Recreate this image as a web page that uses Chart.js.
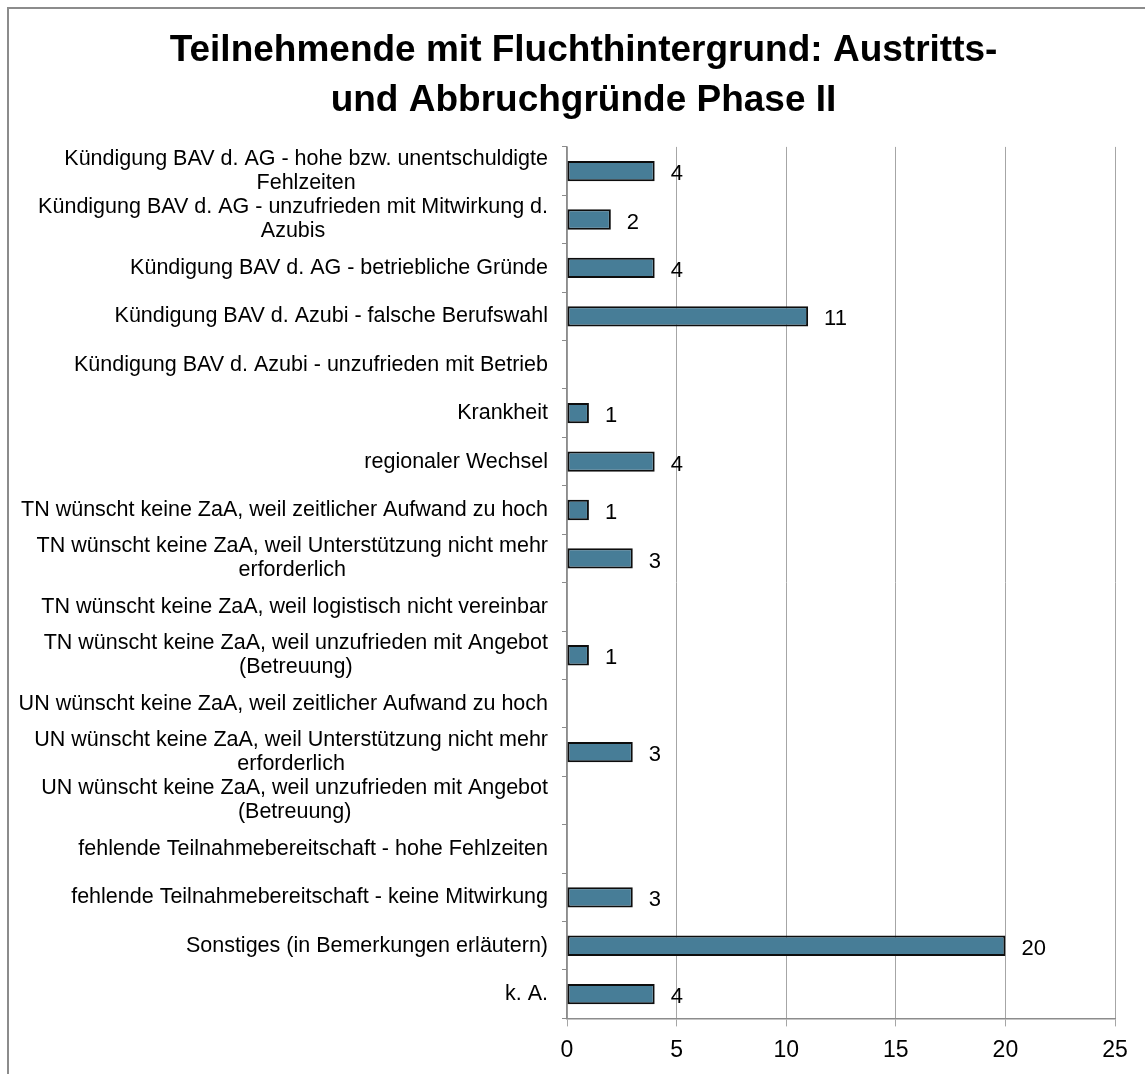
<!DOCTYPE html>
<html>
<head>
<meta charset="utf-8">
<script src="https://cdn.jsdelivr.net/npm/chart.js@4.4.1/dist/chart.umd.min.js"></script>
<style>
  html, body { margin: 0; padding: 0; background: #fff; overflow: hidden; }
  #wrap { position: relative; width: 1145px; height: 1074px; }
  #frame { position: absolute; left: 7px; top: 7px; right: -10px; bottom: -10px;
           border-left: 2px solid #8c8c8c; border-top: 2px solid #8c8c8c; pointer-events: none; }
</style>
</head>
<body>
<div id="wrap">
  <canvas id="chart"></canvas>
  <div id="frame"></div>
</div>
<script>
// Data
const titleLines = ['Teilnehmende mit Fluchthintergrund: Austritts-', 'und Abbruchgründe Phase II'];

const categories = [
  ['Kündigung BAV d. AG - hohe bzw. unentschuldigte', 'Fehlzeiten'],
  ['Kündigung BAV d. AG - unzufrieden mit Mitwirkung d.', 'Azubis'],
  ['Kündigung BAV d. AG - betriebliche Gründe'],
  ['Kündigung BAV d. Azubi - falsche Berufswahl'],
  ['Kündigung BAV d. Azubi - unzufrieden mit Betrieb'],
  ['Krankheit'],
  ['regionaler Wechsel'],
  ['TN wünscht keine ZaA, weil zeitlicher Aufwand zu hoch'],
  ['TN wünscht keine ZaA, weil Unterstützung nicht mehr', 'erforderlich'],
  ['TN wünscht keine ZaA, weil logistisch nicht vereinbar'],
  ['TN wünscht keine ZaA, weil unzufrieden mit Angebot', '(Betreuung)'],
  ['UN wünscht keine ZaA, weil zeitlicher Aufwand zu hoch'],
  ['UN wünscht keine ZaA, weil Unterstützung nicht mehr', 'erforderlich'],
  ['UN wünscht keine ZaA, weil unzufrieden mit Angebot', '(Betreuung)'],
  ['fehlende Teilnahmebereitschaft - hohe Fehlzeiten'],
  ['fehlende Teilnahmebereitschaft - keine Mitwirkung'],
  ['Sonstiges (in Bemerkungen erläutern)'],
  ['k. A.']
];

const counts = [4, 2, 4, 11, 0, 1, 4, 1, 3, 0, 1, 0, 3, 0, 0, 3, 20, 4];

const xTicks = [0, 5, 10, 15, 20, 25];

const FONT = "'Liberation Sans', Arial, sans-serif";

// category labels: block right-aligned, lines centred inside the block (Excel style)
const categoryLabels = {
  id: 'categoryLabels',
  afterDraw(chart) {
    const ctx = chart.ctx;
    const y = chart.scales.y;
    const right = y.right - 19;
    ctx.save();
    ctx.font = '21.5px ' + FONT;
    ctx.fillStyle = '#000';
    ctx.textAlign = 'center';
    ctx.textBaseline = 'middle';
    categories.forEach((lines, i) => {
      const cy = y.getPixelForTick(i);
      const w = Math.max(...lines.map(l => ctx.measureText(l).width));
      const cx = right - w / 2;
      lines.forEach((l, j) => {
        ctx.fillText(l, cx, cy + (j - (lines.length - 1) / 2) * 24);
      });
    });
    ctx.restore();
  }
};

// value labels next to the bar ends
const valueLabels = {
  id: 'valueLabels',
  afterDatasetsDraw(chart) {
    const ctx = chart.ctx;
    const meta = chart.getDatasetMeta(0);
    ctx.save();
    ctx.font = '22px ' + FONT;
    ctx.fillStyle = '#000';
    ctx.textAlign = 'left';
    ctx.textBaseline = 'middle';
    meta.data.forEach((bar, i) => {
      if (!counts[i]) return;
      ctx.fillText(String(counts[i]), bar.x + 16, bar.y + 3);
    });
    ctx.restore();
  }
};

new Chart(document.getElementById('chart'), {
  type: 'bar',
  data: {
    labels: categories.map(c => c.join(' ')),
    datasets: [{
      data: counts,
      backgroundColor: '#477d97',
      borderColor: '#0d0d0d',
      borderWidth: 2,
      borderSkipped: false,
      barPercentage: 0.42,
      categoryPercentage: 1
    }]
  },
  options: {
    indexAxis: 'y',
    responsive: true,
    maintainAspectRatio: false,
    animation: false,
    layout: { padding: { left: 52, right: 30, top: 0, bottom: 0 } },
    plugins: {
      legend: { display: false },
      tooltip: { enabled: false },
      title: {
        display: true,
        text: titleLines,
        color: '#000',
        font: { family: FONT, size: 37, weight: 'bold', lineHeight: 1.35 },
        padding: { top: 26, bottom: 21 }
      }
    },
    scales: {
      x: {
        min: 0,
        max: 25,
        afterBuildTicks: (s) => { s.ticks = xTicks.map(v => ({ value: v })); },
        grid: { color: '#a6a6a6', lineWidth: 1, tickLength: 8 },
        border: { color: '#8c8c8c', width: 1.5 },
        ticks: { color: '#000', padding: 10, font: { family: FONT, size: 23 } }
      },
      y: {
        afterFit: (s) => { s.width = 515; },
        grid: { offset: true, drawOnChartArea: false, color: '#8c8c8c', tickLength: 5 },
        border: { color: '#8c8c8c', width: 1.5 },
        ticks: { color: 'transparent', font: { family: FONT, size: 10 } }
      }
    }
  },
  plugins: [categoryLabels, valueLabels]
});
</script>
</body>
</html>
